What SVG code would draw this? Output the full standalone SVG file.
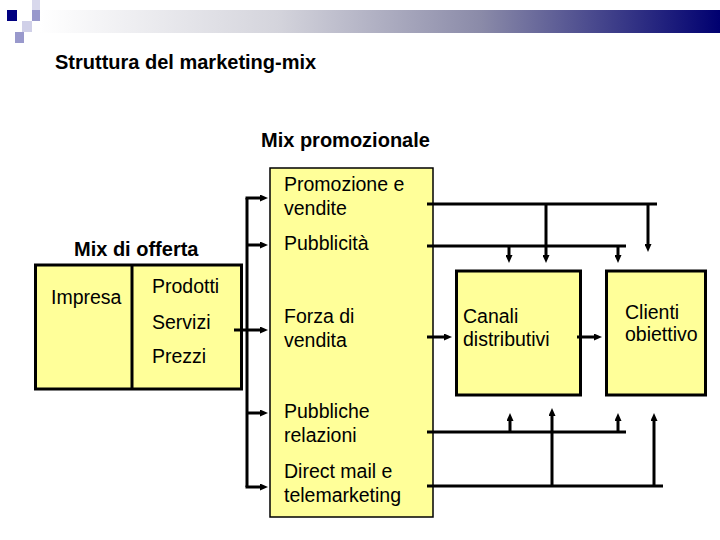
<svg xmlns="http://www.w3.org/2000/svg" width="720" height="540" viewBox="0 0 720 540">
<style>
  .t { font-family: "Liberation Sans", Arial, sans-serif; font-size: 19.5px; fill: #000; }
  .b { font-family: "Liberation Sans", Arial, sans-serif; font-size: 20px; font-weight: bold; fill: #000; }
  .box { fill: #ffff99; stroke: #000; stroke-width: 3; }
  .pbox { fill: #ffff99; stroke: #000; stroke-width: 1.5; }
  .c { stroke: #000; stroke-width: 3; fill: none; }
  .a { stroke: #000; stroke-width: 3; fill: none; marker-end: url(#ah); }
</style>
<defs>
  <linearGradient id="hdr" x1="0" y1="0" x2="1" y2="0">
    <stop offset="0" stop-color="#ffffff"/>
    <stop offset="0.35" stop-color="#d4d4dc"/>
    <stop offset="0.65" stop-color="#8a8aa8"/>
    <stop offset="1" stop-color="#000070"/>
  </linearGradient>
  <marker id="ah" viewBox="0 0 8 7" refX="3" refY="3.5" markerWidth="8" markerHeight="7" markerUnits="userSpaceOnUse" orient="auto">
    <path d="M0,0 L8,3.5 L0,7 z" fill="#000"/>
  </marker>
</defs>
<rect width="720" height="540" fill="#ffffff"/>
<g id="header">
  <rect x="40" y="10" width="680" height="23" fill="url(#hdr)"/>
  <rect x="7" y="10" width="10" height="11" fill="#000080"/>
  <rect x="32" y="0" width="8" height="10" fill="#d8d8ec"/>
  <rect x="32" y="10" width="8" height="11" fill="#9999cc"/>
  <rect x="22" y="21" width="10" height="11" fill="#d0d0e8"/>
  <rect x="15" y="32" width="9" height="11" fill="#9999cc"/>
</g>
<text class="b" x="55" y="69">Struttura del marketing-mix</text>
<text class="b" x="261" y="147">Mix promozionale</text>

<g id="mix-offerta">
  <text class="b" x="74" y="256">Mix di offerta</text>
  <rect class="box" x="35.5" y="265" width="206" height="124"/>
  <line class="c" x1="132" y1="265" x2="132" y2="389"/>
  <text class="t" x="51" y="304">Impresa</text>
  <text class="t" x="152" y="293">Prodotti</text>
  <text class="t" x="152" y="329">Servizi</text>
  <text class="t" x="152" y="363">Prezzi</text>
</g>

<g id="mix-promozionale">
  <rect class="pbox" x="270" y="168" width="163" height="349"/>
  <text class="t" x="284" y="191">Promozione e</text>
  <text class="t" x="284" y="215">vendite</text>
  <text class="t" x="284" y="250">Pubblicità</text>
  <text class="t" x="284" y="323">Forza di</text>
  <text class="t" x="284" y="347">vendita</text>
  <text class="t" x="284" y="418">Pubbliche</text>
  <text class="t" x="284" y="442">relazioni</text>
  <text class="t" x="284" y="478">Direct mail e</text>
  <text class="t" x="284" y="502">telemarketing</text>
</g>

<g id="canali">
  <rect class="box" x="456.5" y="271" width="124" height="124"/>
  <text class="t" x="463" y="323">Canali</text>
  <text class="t" x="463" y="346">distributivi</text>
</g>

<g id="clienti">
  <rect class="box" x="606.5" y="271" width="99" height="124"/>
  <text class="t" x="625" y="319">Clienti</text>
  <text class="t" x="625" y="341">obiettivo</text>
</g>

<g id="connectors">
  <!-- left feed -->
  <line class="c" x1="247" y1="198" x2="247" y2="487"/>
  <line class="a" x1="245.5" y1="198" x2="263" y2="198"/>
  <line class="a" x1="247" y1="245" x2="263" y2="245"/>
  <line class="a" x1="234" y1="330" x2="263" y2="330"/>
  <line class="a" x1="247" y1="413" x2="263" y2="413"/>
  <line class="a" x1="245.5" y1="487" x2="263" y2="487"/>
  <!-- top lines -->
  <line class="c" x1="427" y1="204" x2="657" y2="204"/>
  <line class="c" x1="427" y1="246" x2="626" y2="246"/>
  <line class="a" x1="546" y1="204" x2="546" y2="258"/>
  <line class="a" x1="648" y1="204" x2="648" y2="247"/>
  <line class="a" x1="509" y1="246" x2="509" y2="258"/>
  <line class="a" x1="618" y1="246" x2="618" y2="258"/>
  <!-- middle -->
  <line class="a" x1="427" y1="337" x2="447" y2="337"/>
  <line class="a" x1="577" y1="337" x2="597" y2="337"/>
  <!-- bottom lines -->
  <line class="c" x1="427" y1="432" x2="626" y2="432"/>
  <line class="c" x1="427" y1="486" x2="663" y2="486"/>
  <line class="a" x1="510" y1="432" x2="510" y2="418"/>
  <line class="a" x1="618" y1="432" x2="618" y2="418"/>
  <line class="a" x1="552" y1="486" x2="552" y2="413"/>
  <line class="a" x1="654" y1="486" x2="654" y2="418"/>
</g>
</svg>
